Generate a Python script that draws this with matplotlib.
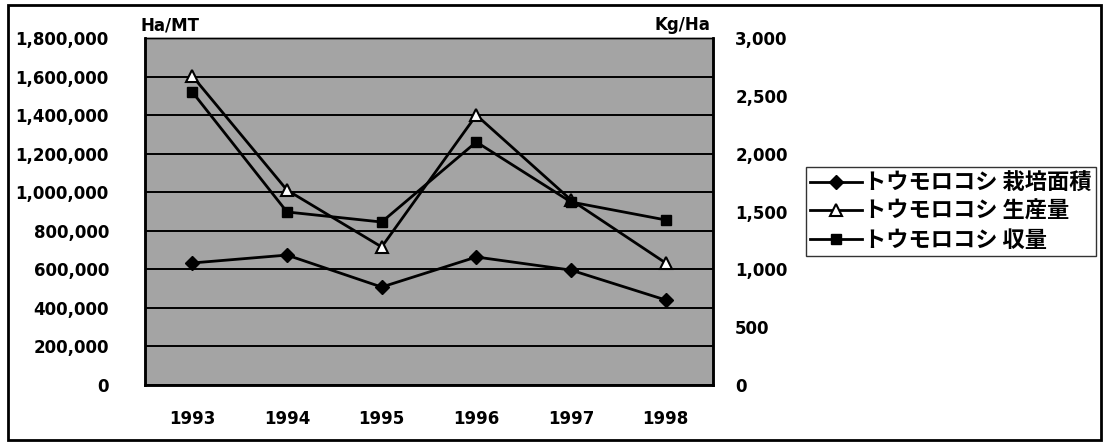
import numpy as np
import matplotlib.pyplot as plt
from matplotlib.patches import Rectangle
from matplotlib.ticker import FuncFormatter

years = ['1993', '1994', '1995', '1996', '1997', '1998']
area = [633000, 674000, 508000, 664000, 596000, 441000]          # Ha
production = [1603000, 1011000, 716000, 1400000, 960000, 633000]  # MT
yield_kg = [2533, 1496, 1409, 2101, 1582, 1427]                  # Kg/Ha

labels = ['トウモロコシ 栽培面積', 'トウモロコシ 生産量', 'トウモロコシ 収量']

plt.rcParams['font.family'] = ['DejaVu Sans']

fig = plt.figure(figsize=(11.05, 4.48), dpi=100)
ax = fig.add_axes([145/1105, 1 - 385/448, (713 - 145)/1105, (385 - 38)/448])
ax2 = ax.twinx()

x = np.arange(len(years))
ax.set_facecolor('#a4a4a4')
ax.set_axisbelow(True)
ax.yaxis.grid(True, color='black', lw=1.4)

l1, = ax.plot(x, area, color='black', lw=2, marker='D', ms=7,
              mfc='black', mec='black', zorder=3)
l2, = ax.plot(x, production, color='black', lw=2, marker='^', ms=8,
              mfc='white', mec='black', mew=1.5, zorder=3)
l3, = ax2.plot(x, yield_kg, color='black', lw=2, marker='s', ms=7,
               mfc='black', mec='black', zorder=3)

ax.set_xlim(-0.5, 5.5)
ax.set_ylim(0, 1800000)
ax2.set_ylim(0, 3000)
ax.set_yticks(np.arange(0, 1800001, 200000))
ax2.set_yticks(np.arange(0, 3001, 500))
ax.set_xticks(x)
ax.set_xticklabels(years)

fmt = FuncFormatter(lambda v, p: f'{int(v):,}')
ax.yaxis.set_major_formatter(fmt)
ax2.yaxis.set_major_formatter(fmt)

ax.tick_params(axis='y', length=0, pad=26, labelsize=12)
ax.tick_params(axis='x', length=0, pad=18, labelsize=12)
ax2.tick_params(axis='y', length=0, pad=16, labelsize=12)
for t in ax.get_yticklabels() + ax.get_xticklabels() + ax2.get_yticklabels():
    t.set_fontweight('bold')

for a in (ax, ax2):
    for s in a.spines.values():
        s.set_color('black')
        s.set_linewidth(1.8)
ax.spines['top'].set_linewidth(1.0)
ax2.spines['top'].set_linewidth(1.0)

# unit labels above the axes
fig.text(140/1105, 1 - 25/448, 'Ha/MT', fontsize=12, va='center', ha='left',
         fontweight='bold')
fig.text(710/1105, 1 - 25/448, 'Kg/Ha', fontsize=12, va='center', ha='right',
         fontweight='bold')

leg = fig.legend([l1, l2, l3], labels, loc='upper left',
                 bbox_to_anchor=(806/1105, 1 - 167/448),
                 prop={'family': ['Noto Sans CJK JP', 'DejaVu Sans'],
                       'size': 16, 'weight': 'bold'},
                 frameon=True, fancybox=False, handlelength=2.3,
                 handletextpad=0.1, borderpad=0.2, labelspacing=0.25,
                 borderaxespad=0)
leg.get_frame().set_edgecolor('black')
leg.get_frame().set_linewidth(1.0)

# outer frame of the chart
fig.add_artist(Rectangle((8/1105, 8/448), (1101 - 8)/1105, (443 - 8)/448,
                         transform=fig.transFigure, fill=False,
                         edgecolor='black', lw=2))

fig.savefig('out.png', dpi=100)
